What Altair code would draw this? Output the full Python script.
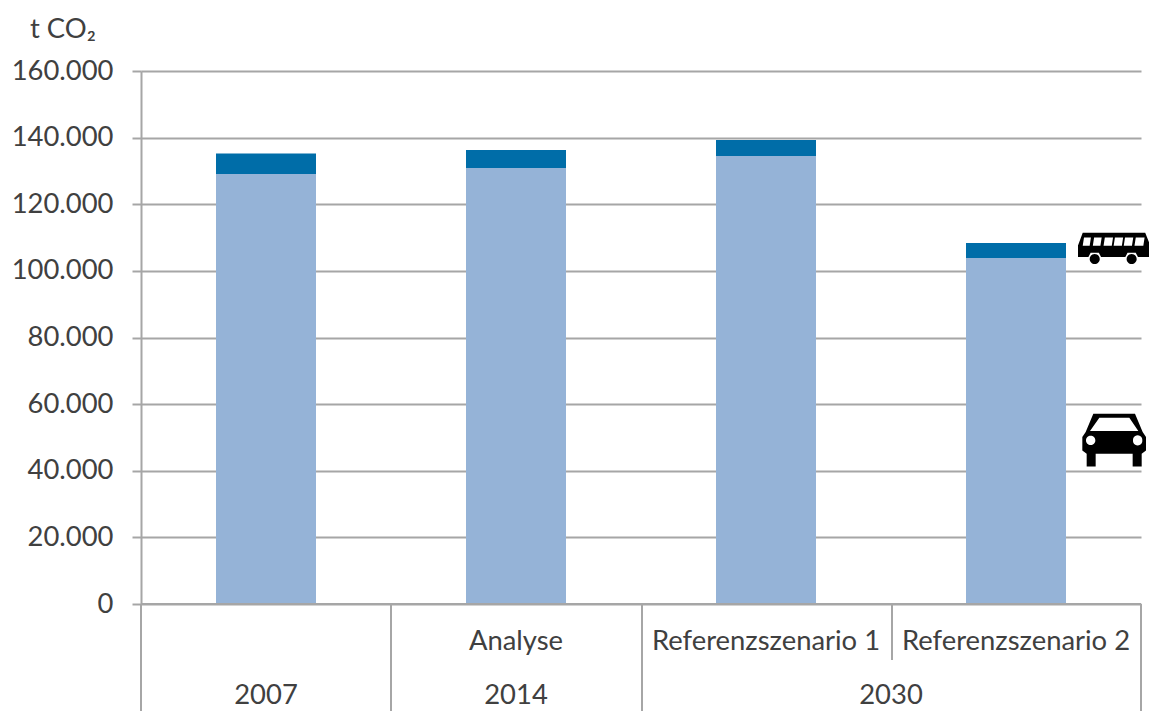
import altair as alt
import pandas as pd

categories = ["2007", "2014", "Referenzszenario 1", "Referenzszenario 2"]
car_values = [129100, 130900, 134500, 103900]
bus_values = [6100, 5400, 4800, 4500]
sub_labels = ["", "Analyse", "Referenzszenario 1", "Referenzszenario 2"]
y_ticks = [0, 20000, 40000, 60000, 80000, 100000, 120000, 140000, 160000]

GRID = "#a6a6a6"
TEXT = "#404040"
FONT = "Lato"
FS = 27.4


def poly(points, cx, cy, half):
    pts = [f"{(x - cx) / half:.3f},{(y - cy) / half:.3f}" for x, y in points]
    return "M" + " L".join(pts) + " Z"


def circle(x, y, r, cx, cy, half, sweep):
    X, Y, R = (x - cx) / half, (y - cy) / half, r / half
    return (f"M{X - R:.3f},{Y:.3f} A{R:.3f},{R:.3f} 0 1 {sweep} {X + R:.3f},{Y:.3f} "
            f"A{R:.3f},{R:.3f} 0 1 {sweep} {X - R:.3f},{Y:.3f} Z")


# Bus icon outline, in zoomed-crop pixels
bcx, bcy, bh = 177.5, 85, 112.5
bus_body = [(80, 35), (278, 35), (290, 65), (290, 112), (255, 112), (248, 98), (222, 98),
            (215, 112), (138, 112), (131, 98), (105, 98), (98, 112), (65, 112), (65, 75)]
bus_path = poly(bus_body, bcx, bcy, bh)
for a, b in [(84, 106), (116, 140), (150, 176), (182, 208), (214, 240), (248, 276)]:
    bus_path += " " + poly([(a, 50), (a - 4, 76), (b - 4, 76), (b, 50)], bcx, bcy, bh)
bus_path += " " + circle(118, 118, 16, bcx, bcy, bh, 1) + " " + circle(235, 118, 16, bcx, bcy, bh, 1)

# Car icon outline, in zoomed-crop pixels
ccx, ccy, ch = 162, 119, 96
car_body = [(100, 40), (225, 40), (248, 95), (258, 110), (258, 150), (245, 160), (245, 198),
            (218, 198), (218, 160), (107, 160), (107, 198), (80, 198), (80, 160), (67, 150),
            (67, 110), (77, 95)]
car_path = poly(car_body, ccx, ccy, ch)
car_path += " " + poly([(118, 52), (90, 92), (235, 92), (208, 52)], ccx, ccy, ch)
car_path += " " + circle(92, 120, 14, ccx, ccy, ch, 0) + " " + circle(233, 120, 14, ccx, ccy, ch, 0)

bars_df = pd.DataFrame(
    {"cat": categories * 2,
     "value": car_values + bus_values,
     "series": ["Pkw"] * 4 + ["Bus"] * 4,
     "ord": [0] * 4 + [1] * 4}
)

x_scale = alt.Scale(domain=categories, paddingInner=0.6, paddingOuter=0.3)
y_scale = alt.Scale(domain=[0, 160000], nice=False)

base_axis = alt.Chart(pd.DataFrame({"v": y_ticks})).mark_tick(opacity=0).encode(
    y=alt.Y("v:Q", scale=y_scale, title=None, axis=alt.Axis(
        values=y_ticks, grid=True, gridColor=GRID, gridWidth=2, domainColor=GRID, domainWidth=2,
        tickColor=GRID, tickWidth=2, tickSize=9, labelPadding=19, labelFont=FONT, labelFontSize=FS,
        labelColor=TEXT, labelExpr="replace(format(datum.value, ','), ',', '.')",
        zindex=0)),
)

bars = alt.Chart(bars_df).mark_bar(width=100).encode(
    x=alt.X("cat:N", scale=x_scale, sort=categories, axis=None),
    y=alt.Y("value:Q", scale=y_scale, stack="zero", title=None),
    color=alt.Color("series:N", scale=alt.Scale(domain=["Pkw", "Bus"], range=["#95b3d7", "#006da8"]), legend=None),
    order=alt.Order("ord:Q"),
)

baseline = alt.Chart(pd.DataFrame({"v": [0]})).mark_rule(color=GRID, strokeWidth=2).encode(
    y=alt.Y("v:Q", scale=y_scale))

layers = [base_axis, bars, baseline]

# Category-axis separators: (x offset, bottom offset) from the plot origin
for xp, bottom in [(0, 640), (250, 640), (501, 640), (751, 589), (1000, 640)]:
    layers.append(alt.Chart(pd.DataFrame({"a": [0]})).mark_rule(color=GRID, strokeWidth=2).encode(
        x=alt.value(xp), y=alt.value(533), y2=alt.value(bottom)))

sub_df = pd.DataFrame({"cat": categories, "label": sub_labels})
layers.append(alt.Chart(sub_df).mark_text(font=FONT, fontSize=FS, color=TEXT, baseline="middle").encode(
    x=alt.X("cat:N", scale=x_scale, sort=categories, axis=None),
    y=alt.value(571), text="label:N"))

for label, xp in [("2007", 125), ("2014", 375), ("2030", 750)]:
    layers.append(alt.Chart(pd.DataFrame({"label": [label]})).mark_text(
        font=FONT, fontSize=FS, color=TEXT, baseline="middle").encode(
        x=alt.value(xp), y=alt.value(625), text="label:N"))

layers.append(alt.Chart(pd.DataFrame({"label": ["t CO₂"]})).mark_text(
    font=FONT, fontSize=FS, color=TEXT, align="left", baseline="alphabetic").encode(
    x=alt.value(-111), y=alt.value(-33), text="label:N"))

# The bus is kept inside the drawable width, which ends 8px short of the window edge
for path, xp, val, size in [(bus_path, 972.5, 106700, 5041), (car_path, 973, 49200, 4096)]:
    layers.append(alt.Chart(pd.DataFrame({"v": [val]})).mark_point(
        shape=path, filled=True, fill="black", opacity=1, size=size, strokeWidth=0).encode(
        x=alt.value(xp), y=alt.Y("v:Q", scale=y_scale)))

chart = alt.layer(*layers).properties(
    width=1000, height=533,
    padding={"left": 133, "top": 63, "right": 8, "bottom": 107},
    autosize=alt.AutoSizeParams(type="none"),
    background="white",
).configure_view(stroke=None)

chart.save("out.html", embed_options={"renderer": "svg", "actions": False})
